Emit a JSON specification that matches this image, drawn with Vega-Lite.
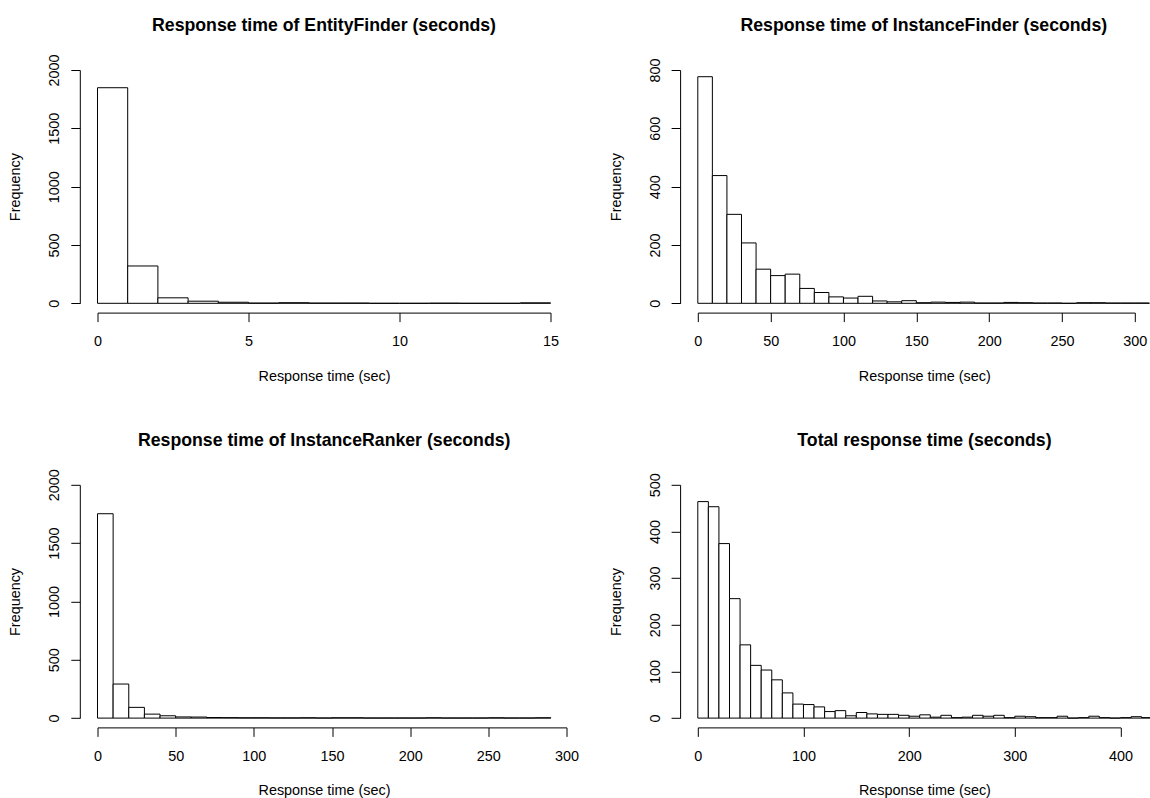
{
  "$schema": "https://vega.github.io/schema/vega-lite/v6.json",
  "background": "white",
  "padding": {"left": 7.5, "top": 17, "right": 0, "bottom": 0},
  "config": {
    "view": {"stroke": null},
    "font": "Liberation Sans",
    "axis": {
      "grid": false,
      "domainColor": "black",
      "tickColor": "black",
      "labelColor": "black",
      "titleColor": "black",
      "labelFont": "Liberation Sans",
      "titleFont": "Liberation Sans",
      "labelFontSize": 14.4,
      "titleFontSize": 14.4,
      "titleFontWeight": "normal",
      "tickSize": 9,
      "domainWidth": 1,
      "tickWidth": 1,
      "labelFlush": false,
      "labelOverlap": false,
      "format": "d"
    },
    "axisY": {"labelAngle": -90, "offset": 17.7, "labelPadding": 9, "titlePadding": 24},
    "axisX": {"offset": 9.3, "labelPadding": 12.6, "titlePadding": 21.5, "titleX": 226.5},
    "title": {"fontSize": 17.7, "fontWeight": "bold", "font": "Liberation Sans", "color": "black", "anchor": "middle", "frame": "group", "offset": 19}
  },
  "datasets": {
    "ef": [
      {"start": 0, "end": 1, "count": 1848},
      {"start": 1, "end": 2, "count": 320},
      {"start": 2, "end": 3, "count": 47},
      {"start": 3, "end": 4, "count": 18},
      {"start": 4, "end": 5, "count": 9},
      {"start": 5, "end": 6, "count": 2},
      {"start": 6, "end": 7, "count": 5},
      {"start": 7, "end": 8, "count": 2},
      {"start": 8, "end": 9, "count": 2},
      {"start": 9, "end": 10, "count": 0},
      {"start": 10, "end": 11, "count": 0},
      {"start": 11, "end": 12, "count": 1},
      {"start": 12, "end": 13, "count": 0},
      {"start": 13, "end": 14, "count": 0},
      {"start": 14, "end": 15, "count": 4}
    ],
    "inf": [
      {"start": 0, "end": 10, "count": 777},
      {"start": 10, "end": 20, "count": 438},
      {"start": 20, "end": 30, "count": 305},
      {"start": 30, "end": 40, "count": 207},
      {"start": 40, "end": 50, "count": 117},
      {"start": 50, "end": 60, "count": 95},
      {"start": 60, "end": 70, "count": 100},
      {"start": 70, "end": 80, "count": 51},
      {"start": 80, "end": 90, "count": 37},
      {"start": 90, "end": 100, "count": 22},
      {"start": 100, "end": 110, "count": 18},
      {"start": 110, "end": 120, "count": 24},
      {"start": 120, "end": 130, "count": 8},
      {"start": 130, "end": 140, "count": 5},
      {"start": 140, "end": 150, "count": 9},
      {"start": 150, "end": 160, "count": 2},
      {"start": 160, "end": 170, "count": 4},
      {"start": 170, "end": 180, "count": 3},
      {"start": 180, "end": 190, "count": 4},
      {"start": 190, "end": 200, "count": 1},
      {"start": 200, "end": 210, "count": 1},
      {"start": 210, "end": 220, "count": 3},
      {"start": 220, "end": 230, "count": 2},
      {"start": 230, "end": 240, "count": 1},
      {"start": 240, "end": 250, "count": 1},
      {"start": 250, "end": 260, "count": 0},
      {"start": 260, "end": 270, "count": 2},
      {"start": 270, "end": 280, "count": 2},
      {"start": 280, "end": 290, "count": 1},
      {"start": 290, "end": 300, "count": 1},
      {"start": 300, "end": 310, "count": 1}
    ],
    "ir": [
      {"start": 0, "end": 10, "count": 1752},
      {"start": 10, "end": 20, "count": 292},
      {"start": 20, "end": 30, "count": 92},
      {"start": 30, "end": 40, "count": 34},
      {"start": 40, "end": 50, "count": 20},
      {"start": 50, "end": 60, "count": 10},
      {"start": 60, "end": 70, "count": 9},
      {"start": 70, "end": 80, "count": 5},
      {"start": 80, "end": 90, "count": 4},
      {"start": 90, "end": 100, "count": 3},
      {"start": 100, "end": 110, "count": 3},
      {"start": 110, "end": 120, "count": 2},
      {"start": 120, "end": 130, "count": 2},
      {"start": 130, "end": 140, "count": 3},
      {"start": 140, "end": 150, "count": 1},
      {"start": 150, "end": 160, "count": 3},
      {"start": 160, "end": 170, "count": 3},
      {"start": 170, "end": 180, "count": 1},
      {"start": 180, "end": 190, "count": 1},
      {"start": 190, "end": 200, "count": 1},
      {"start": 200, "end": 210, "count": 1},
      {"start": 210, "end": 220, "count": 3},
      {"start": 220, "end": 230, "count": 1},
      {"start": 230, "end": 240, "count": 1},
      {"start": 240, "end": 250, "count": 1},
      {"start": 250, "end": 260, "count": 3},
      {"start": 260, "end": 270, "count": 1},
      {"start": 270, "end": 280, "count": 1},
      {"start": 280, "end": 290, "count": 3}
    ],
    "tot": [
      {"start": 0, "end": 10, "count": 464},
      {"start": 10, "end": 20, "count": 453},
      {"start": 20, "end": 30, "count": 374},
      {"start": 30, "end": 40, "count": 256},
      {"start": 40, "end": 50, "count": 157},
      {"start": 50, "end": 60, "count": 113},
      {"start": 60, "end": 70, "count": 103},
      {"start": 70, "end": 80, "count": 82},
      {"start": 80, "end": 90, "count": 54},
      {"start": 90, "end": 100, "count": 30},
      {"start": 100, "end": 110, "count": 29},
      {"start": 110, "end": 120, "count": 24},
      {"start": 120, "end": 130, "count": 14},
      {"start": 130, "end": 140, "count": 16},
      {"start": 140, "end": 150, "count": 5},
      {"start": 150, "end": 160, "count": 12},
      {"start": 160, "end": 170, "count": 9},
      {"start": 170, "end": 180, "count": 8},
      {"start": 180, "end": 190, "count": 8},
      {"start": 190, "end": 200, "count": 6},
      {"start": 200, "end": 210, "count": 4},
      {"start": 210, "end": 220, "count": 7},
      {"start": 220, "end": 230, "count": 2},
      {"start": 230, "end": 240, "count": 6},
      {"start": 240, "end": 250, "count": 1},
      {"start": 250, "end": 260, "count": 2},
      {"start": 260, "end": 270, "count": 6},
      {"start": 270, "end": 280, "count": 4},
      {"start": 280, "end": 290, "count": 6},
      {"start": 290, "end": 300, "count": 1},
      {"start": 300, "end": 310, "count": 4},
      {"start": 310, "end": 320, "count": 3},
      {"start": 320, "end": 330, "count": 1},
      {"start": 330, "end": 340, "count": 1},
      {"start": 340, "end": 350, "count": 4},
      {"start": 350, "end": 360, "count": 0},
      {"start": 360, "end": 370, "count": 1},
      {"start": 370, "end": 380, "count": 4},
      {"start": 380, "end": 390, "count": 1},
      {"start": 390, "end": 400, "count": 0},
      {"start": 400, "end": 410, "count": 1},
      {"start": 410, "end": 420, "count": 3},
      {"start": 420, "end": 430, "count": 1}
    ]
  },
  "columns": 2,
  "bounds": "flush",
  "spacing": {"row": 180.8, "column": 131.3},
  "concat": [
    {
      "title": {"text": "Response time of EntityFinder (seconds)"},
      "width": 453,
      "height": 233.3,
      "data": {"name": "ef"},
      "mark": {"type": "bar", "fill": "white", "stroke": "black", "strokeWidth": 1, "clip": false},
      "encoding": {
        "x": {"field": "start", "type": "quantitative", "scale": {"domain": [0, 15], "nice": false, "zero": false}, "axis": {"values": [0, 5, 10, 15], "title": "Response time (sec)"}},
        "x2": {"field": "end"},
        "y": {"field": "count", "type": "quantitative", "scale": {"domain": [0, 2000], "nice": false}, "axis": {"values": [0, 500, 1000, 1500, 2000], "title": "Frequency"}},
        "y2": {"datum": 0}
      }
    },
    {
      "title": {"text": "Response time of InstanceFinder (seconds)", "dx": 7.5, "offset": 23},
      "width": 437,
      "height": 233.3,
      "data": {"name": "inf"},
      "mark": {"type": "bar", "fill": "white", "stroke": "black", "strokeWidth": 1, "clip": false},
      "encoding": {
        "x": {"field": "start", "type": "quantitative", "scale": {"domain": [0, 300], "nice": false, "zero": false}, "axis": {"values": [0, 50, 100, 150, 200, 250, 300], "title": "Response time (sec)"}},
        "x2": {"field": "end"},
        "y": {"field": "count", "type": "quantitative", "scale": {"domain": [0, 800], "nice": false}, "axis": {"values": [0, 200, 400, 600, 800], "title": "Frequency"}},
        "y2": {"datum": 0}
      }
    },
    {
      "title": {"text": "Response time of InstanceRanker (seconds)", "dx": -7.8},
      "width": 469,
      "height": 233.3,
      "data": {"name": "ir"},
      "mark": {"type": "bar", "fill": "white", "stroke": "black", "strokeWidth": 1, "clip": false},
      "encoding": {
        "x": {"field": "start", "type": "quantitative", "scale": {"domain": [0, 300], "nice": false, "zero": false}, "axis": {"values": [0, 50, 100, 150, 200, 250, 300], "title": "Response time (sec)"}},
        "x2": {"field": "end"},
        "y": {"field": "count", "type": "quantitative", "scale": {"domain": [0, 2000], "nice": false}, "axis": {"values": [0, 500, 1000, 1500, 2000], "title": "Frequency"}},
        "y2": {"datum": 0}
      }
    },
    {
      "title": {"text": "Total response time (seconds)", "dx": 15.3, "offset": 23},
      "width": 422.7,
      "height": 233.3,
      "data": {"name": "tot"},
      "mark": {"type": "bar", "fill": "white", "stroke": "black", "strokeWidth": 1, "clip": false},
      "encoding": {
        "x": {"field": "start", "type": "quantitative", "scale": {"domain": [0, 400], "nice": false, "zero": false}, "axis": {"values": [0, 100, 200, 300, 400], "title": "Response time (sec)", "titleX": 226.6}},
        "x2": {"field": "end"},
        "y": {"field": "count", "type": "quantitative", "scale": {"domain": [0, 500], "nice": false}, "axis": {"values": [0, 100, 200, 300, 400, 500], "title": "Frequency"}},
        "y2": {"datum": 0}
      }
    }
  ]
}
